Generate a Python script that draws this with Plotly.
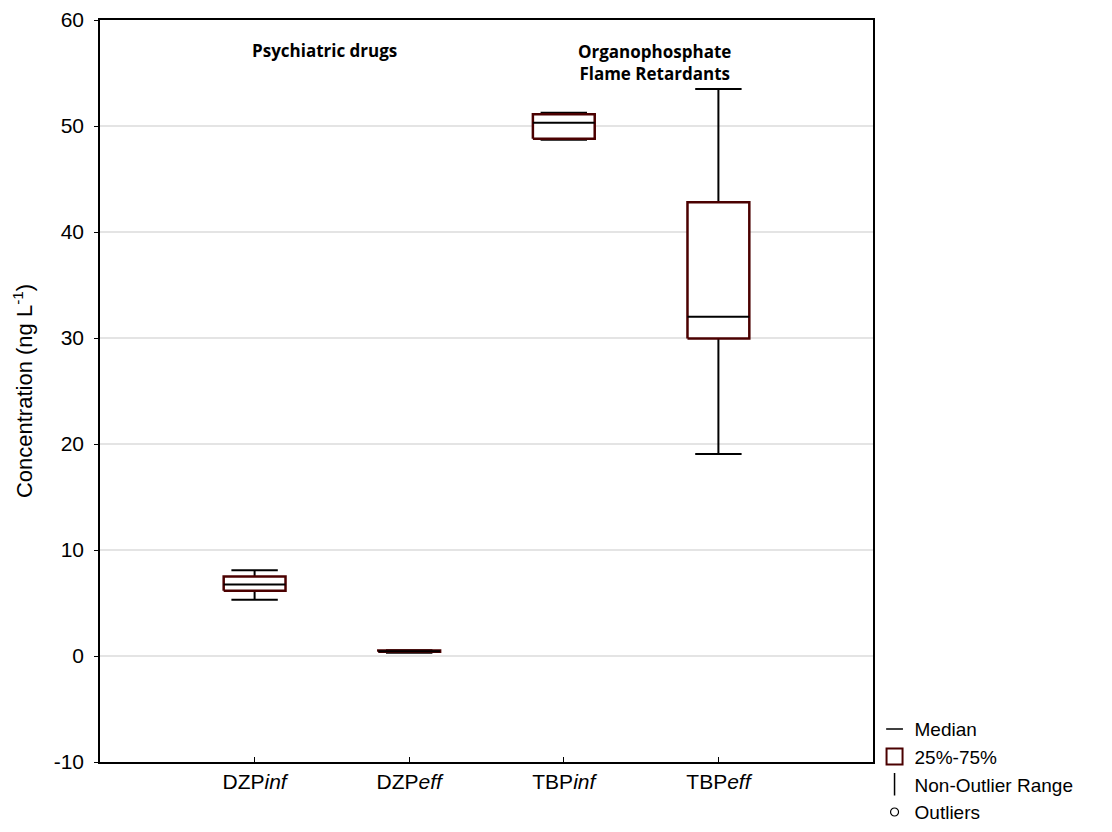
import plotly.graph_objects as go

categories = ["DZP<i>inf</i>", "DZP<i>eff</i>", "TBP<i>inf</i>", "TBP<i>eff</i>"]
lower_whisker = [5.3, 0.3, 48.7, 19.05]
q1 = [6.15, 0.40, 48.8, 29.95]
median = [6.75, 0.45, 50.3, 32.0]
q3 = [7.5, 0.52, 51.1, 42.8]
upper_whisker = [8.1, 0.55, 51.25, 53.5]

y_tickvals = [-10, 0, 10, 20, 30, 40, 50, 60]
y_ticktext = ["-10", "0", "10", "20", "30", "40", "50", "60"]

y_title = "Concentration (ng L<sup>-1</sup>)"
group_labels = ["<b>Psychiatric drugs</b>", "<b>Organophosphate<br>Flame Retardants</b>"]
group_x = [0.455, 2.587]
group_y = [57.1, 56.0]

BOX_HALF = 0.2
CAP_HALF = 0.15
MAROON = "#4b0000"

fig = go.Figure()

xpos = list(range(len(categories)))

# whiskers (stems + caps)
wx, wy = [], []
for i, x in enumerate(xpos):
    wx += [x, x, None, x, x, None,
           x - CAP_HALF, x + CAP_HALF, None, x - CAP_HALF, x + CAP_HALF, None]
    wy += [q3[i], upper_whisker[i], None, q1[i], lower_whisker[i], None,
           upper_whisker[i], upper_whisker[i], None, lower_whisker[i], lower_whisker[i], None]
fig.add_trace(go.Scatter(x=wx, y=wy, mode="lines", line=dict(color="black", width=2),
                         showlegend=False, hoverinfo="skip"))

# boxes
for i, x in enumerate(xpos):
    fig.add_trace(go.Scatter(
        x=[x - BOX_HALF, x + BOX_HALF, x + BOX_HALF, x - BOX_HALF, x - BOX_HALF],
        y=[q1[i], q1[i], q3[i], q3[i], q1[i]],
        mode="lines", fill="toself", fillcolor="white",
        line=dict(color=MAROON, width=2.5), showlegend=False, hoverinfo="skip"))

# medians
mx, my = [], []
for i, x in enumerate(xpos):
    mx += [x - BOX_HALF, x + BOX_HALF, None]
    my += [median[i], median[i], None]
fig.add_trace(go.Scatter(x=mx, y=my, mode="lines", line=dict(color="black", width=2),
                         showlegend=False, hoverinfo="skip"))

# legend entries
fig.add_trace(go.Scatter(x=[None], y=[None], mode="markers", name="Median",
                         marker=dict(symbol="line-ew-open", size=12, color="black",
                                     line=dict(color="black", width=1.5))))
fig.add_trace(go.Scatter(x=[None], y=[None], mode="markers", name="25%-75%",
                         marker=dict(symbol="square-open", size=16, color=MAROON,
                                     line=dict(color=MAROON, width=2))))
fig.add_trace(go.Scatter(x=[None], y=[None], mode="markers", name="Non-Outlier Range",
                         marker=dict(symbol="line-ns-open", size=18, color="black",
                                     line=dict(color="black", width=1.5))))
fig.add_trace(go.Scatter(x=[None], y=[None], mode="markers", name="Outliers",
                         marker=dict(symbol="circle-open", size=8, color="black",
                                     line=dict(color="black", width=1.2))))

for txt, gx, gy in zip(group_labels, group_x, group_y):
    fig.add_annotation(x=gx, y=gy, text=txt, showarrow=False, xanchor="center", yanchor="middle",
                       font=dict(family="Open Sans", size=17, color="black"))

fig.add_annotation(xref="paper", yref="paper", x=-0.0995, y=0.5, text=y_title, textangle=-90,
                   showarrow=False, xanchor="center", yanchor="middle",
                   font=dict(family="Liberation Sans, Arial", size=22, color="black"))

fig.update_layout(
    width=1104, height=824,
    paper_bgcolor="white", plot_bgcolor="white",
    margin=dict(l=92, r=239, t=12, b=70, autoexpand=False),
    font=dict(family="Liberation Sans, Arial", size=21, color="black"),
    legend=dict(x=1.002, xanchor="left", y=0.07, yanchor="top", bgcolor="rgba(0,0,0,0)",
                font=dict(size=19), tracegroupgap=0, itemsizing="trace"),
    xaxis=dict(range=[-1, 4], tickvals=xpos, ticktext=categories, showgrid=False,
               zeroline=False, showline=True, linecolor="black", linewidth=1.5, mirror=True,
               ticks="inside", ticklen=5, tickcolor="black", tickfont=dict(size=21),
               automargin=False),
    yaxis=dict(range=[-10, 60], tickvals=y_tickvals, ticktext=y_ticktext, showgrid=True,
               gridcolor="#e4e4e4", gridwidth=1.5,
               zeroline=False, showline=True, linecolor="black", linewidth=1.5, mirror=True,
               ticks="outside", ticklen=4, tickcolor="black", tickfont=dict(size=21),
               ticklabelstandoff=6, automargin=False),
)

fig.write_html("out.html")
